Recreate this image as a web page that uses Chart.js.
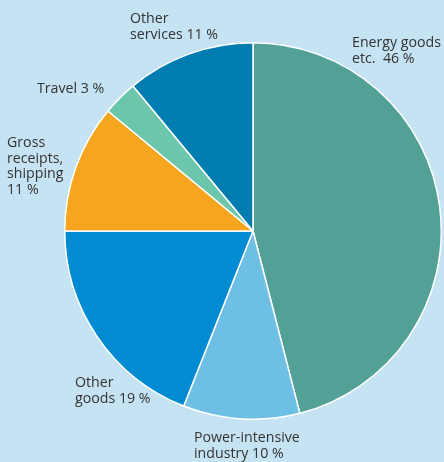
<!DOCTYPE html>
<html>
<head>
<meta charset="utf-8">
<script src="https://cdn.jsdelivr.net/npm/chart.js@4"></script>
<style>
html,body{margin:0;padding:0;background:#c5e3f3;}
#wrap{width:444px;height:462px;position:relative;}
</style>
</head>
<body>
<div id="wrap"><canvas id="c" width="444" height="462"></canvas></div>
<script>
// Data
const categories = ["Energy goods etc.", "Power-intensive industry", "Other goods", "Gross receipts, shipping", "Travel", "Other services"];
const shares = [46, 10, 19, 11, 3, 11];
const labelLines = [
  ["Energy goods", "etc.  46 %"],
  ["Power-intensive", "industry 10 %"],
  ["Other", "goods 19 %"],
  ["Gross", "receipts,", "shipping", "11 %"],
  ["Travel 3 %"],
  ["Other", "services 11 %"]
];
// Styles / positions (label anchor = left x, first baseline y)
const sliceColors = ["#52a096", "#6dbfe3", "#008bd2", "#f6a61e", "#6cc6ab", "#007db0"];
const labelAnchors = [[352, 47], [194, 442], [75, 387], [7, 147], [37, 93], [130, 23]];

const labelPlugin = {
  id: 'outLabels',
  afterDraw(chart) {
    const ctx = chart.ctx;
    ctx.save();
    ctx.fillStyle = '#333333';
    ctx.font = '14.2px "Open Sans"';
    ctx.textAlign = 'left';
    ctx.textBaseline = 'alphabetic';
    labelLines.forEach((lines, i) => {
      const [x, y] = labelAnchors[i];
      lines.forEach((t, j) => ctx.fillText(t, x, y + j * 15.6));
    });
    ctx.restore();
  }
};

new Chart(document.getElementById('c'), {
  type: 'pie',
  data: {
    labels: categories,
    datasets: [{
      data: shares,
      backgroundColor: sliceColors,
      borderColor: '#ffffff',
      borderWidth: 1.5
    }]
  },
  options: {
    responsive: false,
    animation: false,
    layout: { padding: { left: 64, right: 2, top: 42, bottom: 42 } },
    plugins: { legend: { display: false }, tooltip: { enabled: false } }
  },
  plugins: [labelPlugin]
});
</script>
</body>
</html>
